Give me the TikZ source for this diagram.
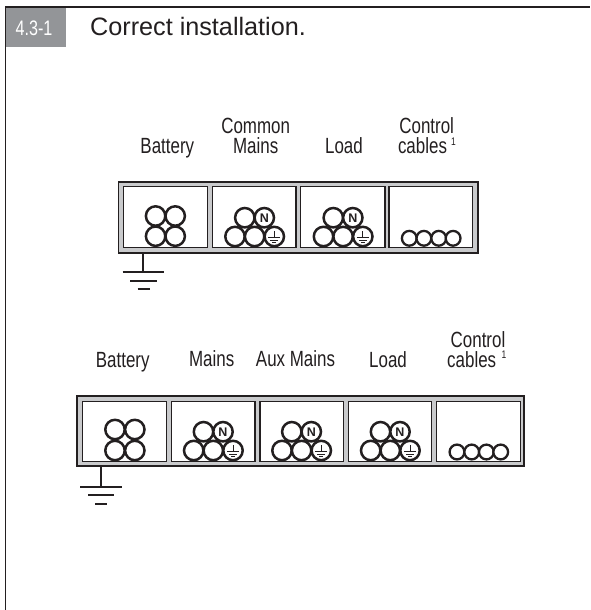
\documentclass[tikz,border=0pt]{standalone}
\usepackage{fontspec}
\setmainfont{Liberation Sans}
\newfontfamily\labelfont[FakeStretch=0.77]{Liberation Sans}
\definecolor{ink}{HTML}{231F20}
\definecolor{tagfill}{HTML}{939598}
\definecolor{duct}{HTML}{C9CACC}
\tikzset{
  x=1pt,y=-1pt,
  frameline/.style={draw=ink,line width=1.5pt},
  ductbox/.style={draw=ink,line width=1.8pt,fill=duct},
  cell/.style={draw=ink,line width=1.4pt,fill=white},
  wire/.style={draw=ink,line width=2.5pt,fill=white},
  earthline/.style={draw=ink,line width=1.8pt},
  lab/.style={font=\labelfont\fontsize{22}{22}\selectfont,text=ink,anchor=base,inner sep=0pt},
  sup/.style={font=\labelfont\fontsize{11}{11}\selectfont,text=ink,anchor=base west,inner sep=0pt},
  nlab/.style={font=\bfseries\fontsize{12.5}{12.5}\selectfont,text=ink,inner sep=0pt},
}
% five-conductor group: #1 = x of the lower-left wire, #2 = upper row y, #3 = lower row y
\newcommand{\fivewires}[3]{%
  \draw[wire] (#1+9.8,#2) circle[radius=9.7];
  \draw[wire] (#1,#3) circle[radius=9.7];
  \draw[wire] (#1+19.6,#3) circle[radius=9.7];
  \draw[wire] (#1+39.3,#3) circle[radius=9.7];
  \draw[wire] (#1+29.3,#2) circle[radius=9.7];
  \node[nlab] at (#1+29.3,#2) {N};
  \draw[ink,line width=.8pt] (#1+39.3,#3-5.5) -- (#1+39.3,#3+1)
     (#1+33.3,#3+1) -- (#1+45.3,#3+1) (#1+35.3,#3+3.5) -- (#1+43.3,#3+3.5) (#1+37.3,#3+6) -- (#1+41.3,#3+6);
}
\newcommand{\fourwires}[4]{%
  \draw[wire] (#1,#3) circle[radius=9.7];
  \draw[wire] (#2,#3) circle[radius=9.7];
  \draw[wire] (#1,#4) circle[radius=9.7];
  \draw[wire] (#2,#4) circle[radius=9.7];
}
\newcommand{\ctrlwires}[5]{%
  \foreach \cx in {#1,#2,#3,#4} \draw[wire,line width=2.3pt] (\cx,#5) circle[radius=7.4];
}
\begin{document}
\begin{tikzpicture}
\useasboundingbox (0,0) rectangle (590,610);
\fill[white] (0,0) rectangle (590,610);
% frame
\coordinate (frameBL) at (5.5,610);
\coordinate (frameTL) at (5.5,7);
\coordinate (frameTR) at (590,7);
\draw[frameline] (frameBL) -- (frameTL) -- (frameTR);
\fill[tagfill] (6.3,7.8) rectangle (66,47);
\node[inner sep=0pt,text=white,font=\labelfont\fontsize{21}{21}\selectfont,anchor=base] (tag) at (34,36) {4.3-1};
\node[inner sep=0pt,text=ink,font=\fontsize{25.2}{25.2}\selectfont,anchor=base west] (title) at (90,36) {Correct installation.};

% upper duct
\draw[ductbox] (118.5,181.7) rectangle (478,252.7);
\draw[cell] (123.3,186.7) rectangle (207.7,247.3);
\draw[cell] (212.3,186.7) rectangle (296,247.3);
\draw[cell] (300.7,186.7) rectangle (385,247.3);
\draw[cell] (389,186.7) rectangle (472.7,247.3);
\fourwires{155.6}{175.2}{216}{236.2}
\fivewires{235}{217.7}{236.5}
\fivewires{323.5}{217.7}{236.5}
\ctrlwires{409.3}{423.9}{438.7}{453.1}{238.3}
\coordinate (gA) at (143.3,252.7);
\coordinate (gB) at (143.3,272.3);
\draw[earthline] (gA) -- (gB);
\draw[earthline] (122.7,272.3) -- (164,272.3) (130,280.7) -- (157,280.7) (137.5,289) -- (149.5,289);
\node[lab] (u1) at (167.3,153) {Battery};
\node[lab] (u2) at (255.7,133) {Common};
\node[lab] (u3) at (255.7,153) {Mains};
\node[lab] (u4) at (344,153) {Load};
\node[lab] (u5) at (426.7,133) {Control};
\node[lab] (u6) at (422.5,153) {cables};
\node[sup] (u7) at (451,145.2) {1};

% lower duct
\draw[ductbox] (76.7,396) rectangle (524,466);
\draw[cell] (82.7,401.7) rectangle (166.7,461.7);
\draw[cell] (171.7,401.7) rectangle (255,461.7);
\draw[cell] (260,401.7) rectangle (343.3,461.7);
\draw[cell] (348.7,401.7) rectangle (431.7,461.7);
\draw[cell] (436.7,401.7) rectangle (520.7,461.7);
\fourwires{115}{134.8}{429.5}{450.5}
\fivewires{193.7}{431.7}{450.5}
\fivewires{282}{431.7}{450.5}
\fivewires{370.7}{431.7}{450.5}
\ctrlwires{457}{471.7}{486.4}{500.7}{452}
\coordinate (hA) at (100.7,466);
\coordinate (hB) at (100.7,486.7);
\draw[earthline] (hA) -- (hB);
\draw[earthline] (80,486.7) -- (121.7,486.7) (88,495.3) -- (114,495.3) (95,503.7) -- (107,503.7);
\node[lab] (l1) at (122.7,367) {Battery};
\node[lab] (l2) at (211.7,366) {Mains};
\node[lab] (l3) at (295.5,366) {Aux Mains};
\node[lab] (l4) at (388,367) {Load};
\node[lab] (l5) at (478,347) {Control};
\node[lab] (l6) at (471.7,367) {cables};
\node[sup] (l7) at (501.5,358.5) {1};
\end{tikzpicture}
\end{document}
